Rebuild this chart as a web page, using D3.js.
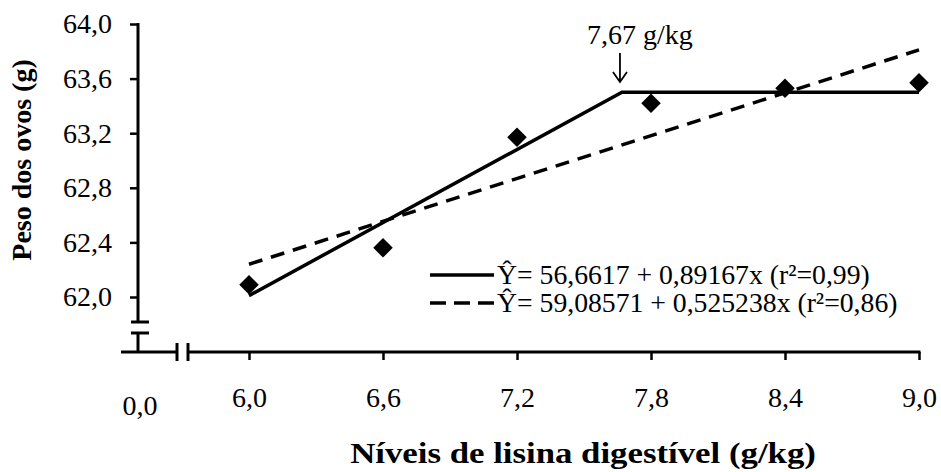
<!DOCTYPE html>
<html>
<head>
<meta charset="utf-8">
<script src="https://cdn.jsdelivr.net/npm/d3@7"></script>
<style>
  body { margin: 0; background: #fff; }
  text { font-family: "Liberation Serif", "Times New Roman", serif; fill: #000; }
</style>
</head>
<body>
<div id="viz"></div>
<script>
// observed means
const levels = [6.0, 6.6, 7.2, 7.8, 8.4, 9.0];
const eggWeight = [62.09, 62.36, 63.17, 63.42, 63.53, 63.57];

// fitted lines
const lrpX = [6.0, 7.67, 9.0];
const lrpY = [62.01, 63.50, 63.50];
const quadX = [6.0, 9.0];
const quadY = [62.24, 63.81];

const xTicks = [6.0, 6.6, 7.2, 7.8, 8.4, 9.0];
const yTicks = [62.0, 62.4, 62.8, 63.2, 63.6, 64.0];
const legendLabels = [
    "Ŷ= 56,6617 + 0,89167x (r²=0,99)",
    "Ŷ= 59,08571 + 0,525238x (r²=0,86)"
];

const width = 941, height = 472;
const fmt = d => d3.format(".1f")(d).replace(".", ",");

const svg = d3.select("#viz").append("svg")
    .attr("width", width)
    .attr("height", height);

const xScale = d3.scaleLinear().domain([6, 9]).range([249, 919]);
const yScale = d3.scaleLinear().domain([62, 64]).range([297, 24]);

const axisX = 138, axisY = 352;

// y axis
const yAxis = svg.append("g")
    .attr("transform", `translate(${axisX},0)`)
    .call(d3.axisLeft(yScale).tickValues(yTicks).tickFormat(fmt).tickSize(8).tickPadding(18));
yAxis.select(".domain").remove();
yAxis.selectAll("line").attr("stroke-width", 2.5);
yAxis.selectAll("text").attr("font-size", 28).attr("font-family", "Liberation Serif, serif");

const axisLines = svg.append("g").attr("stroke", "#000").attr("stroke-width", 3);
axisLines.append("line").attr("x1", axisX).attr("x2", axisX).attr("y1", 23).attr("y2", 322);
axisLines.append("line").attr("x1", axisX - 7).attr("x2", axisX + 11).attr("y1", 322).attr("y2", 322);
axisLines.append("line").attr("x1", axisX - 7).attr("x2", axisX + 11).attr("y1", 333).attr("y2", 333);
axisLines.append("line").attr("x1", axisX).attr("x2", axisX).attr("y1", 333).attr("y2", axisY);

// x axis
const xAxis = svg.append("g")
    .attr("transform", `translate(0,${axisY})`)
    .call(d3.axisBottom(xScale).tickValues(xTicks).tickFormat(fmt).tickSize(8).tickSizeOuter(0).tickPadding(27));
xAxis.select(".domain").remove();
xAxis.selectAll("line").attr("stroke-width", 2.5);
xAxis.selectAll("text").attr("font-size", 28).attr("font-family", "Liberation Serif, serif");

axisLines.append("line").attr("x1", 121).attr("x2", 177).attr("y1", axisY).attr("y2", axisY);
axisLines.append("line").attr("x1", 177).attr("x2", 177).attr("y1", axisY - 9).attr("y2", axisY + 9);
axisLines.append("line").attr("x1", 188).attr("x2", 188).attr("y1", axisY - 9).attr("y2", axisY + 9);
axisLines.append("line").attr("x1", 188).attr("x2", xScale(9) + 1.5).attr("y1", axisY).attr("y2", axisY);

svg.append("text")
    .attr("x", axisX + 2).attr("y", 415)
    .attr("text-anchor", "middle")
    .attr("font-size", 28)
    .text("0,0");

// axis titles (x title is drawn a little wide, like the source)
svg.append("text")
    .attr("transform", "translate(583,463) scale(1.2,1)")
    .attr("text-anchor", "middle")
    .attr("font-size", 29).attr("font-weight", "bold")
    .text("Níveis de lisina digestível (g/kg)");

svg.append("text")
    .attr("transform", "translate(31,160) rotate(-90)")
    .attr("text-anchor", "middle")
    .attr("font-size", 28).attr("font-weight", "bold")
    .text("Peso dos ovos (g)");

// fitted lines
const line = d3.line().x(d => xScale(d[0])).y(d => yScale(d[1]));

svg.append("path")
    .datum(d3.zip(quadX, quadY))
    .attr("d", line)
    .attr("fill", "none").attr("stroke", "#000")
    .attr("stroke-width", 3.5).attr("stroke-dasharray", "14,9");

svg.append("path")
    .datum(d3.zip(lrpX, lrpY))
    .attr("d", line)
    .attr("fill", "none").attr("stroke", "#000")
    .attr("stroke-width", 3.5);

// points
svg.selectAll(".pt")
    .data(d3.zip(levels, eggWeight))
    .enter().append("path")
        .attr("class", "pt")
        .attr("d", d3.symbol(d3.symbolSquare, 190))
        .attr("transform", d => `translate(${xScale(d[0])},${yScale(d[1])}) rotate(45)`)
        .attr("fill", "#000");

// breakpoint annotation
const bx = xScale(lrpX[1]);
svg.append("text")
    .attr("x", bx + 18).attr("y", 44)
    .attr("text-anchor", "middle")
    .attr("font-size", 28)
    .text("7,67 g/kg");
svg.append("line")
    .attr("x1", bx - 2).attr("x2", bx - 2).attr("y1", 53).attr("y2", 82)
    .attr("stroke", "#000").attr("stroke-width", 1.8);
svg.append("path")
    .attr("d", `M${bx - 9},${72} L${bx - 2},${82} L${bx + 5},${72}`)
    .attr("fill", "none").attr("stroke", "#000").attr("stroke-width", 1.8);

// legend
const legend = svg.append("g");
const rowsY = [275, 303];
legend.selectAll("line")
    .data(legendLabels)
    .enter().append("line")
        .attr("x1", 430).attr("x2", 494)
        .attr("y1", (d, i) => rowsY[i]).attr("y2", (d, i) => rowsY[i])
        .attr("stroke", "#000").attr("stroke-width", 3.5)
        .attr("stroke-dasharray", (d, i) => i === 0 ? null : "16,8");
legend.selectAll("text")
    .data(legendLabels)
    .enter().append("text")
        .attr("x", 497).attr("y", (d, i) => rowsY[i] + 9)
        .attr("font-size", 27.7)
        .text(d => d);
</script>
</body>
</html>
